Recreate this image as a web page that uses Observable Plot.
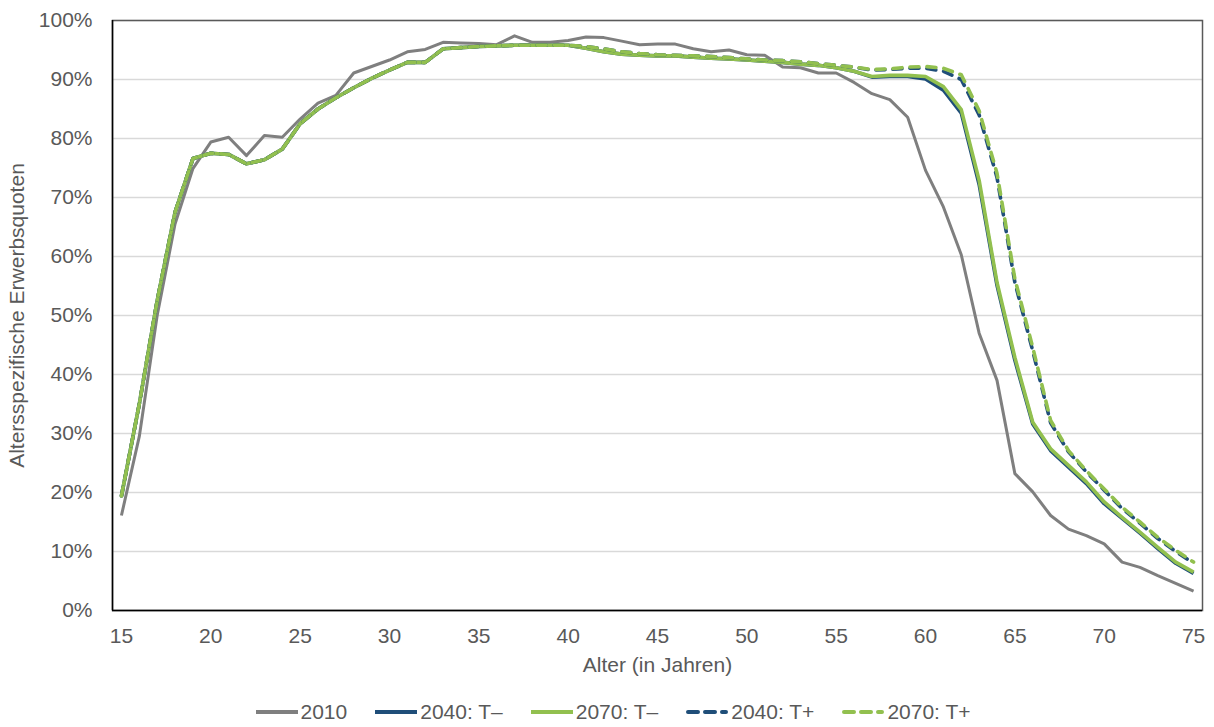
<!DOCTYPE html>
<html>
<head>
<meta charset="utf-8">
<script src="https://cdn.jsdelivr.net/npm/d3@7"></script>
<script src="https://cdn.jsdelivr.net/npm/@observablehq/plot@0.6"></script>
<style>
  html, body { margin: 0; padding: 0; background: #fff; }
  #chart { width: 1214px; }
  .legend { display: flex; justify-content: center; align-items: center; margin-top: 10px; padding-left: 12px;
    font-family: "Liberation Sans", Arial, sans-serif; font-size: 21px; color: #595959; line-height: 24px; }
  .legend .item { display: flex; align-items: center; margin: 0 14px; }
  .legend svg { margin-right: 3px; }
</style>
</head>
<body>
<div id="chart"></div>
<script>
// Ages (x categories)
const ages = d3.range(15, 76);
// Tick labels
const xTicks = [15, 20, 25, 30, 35, 40, 45, 50, 55, 60, 65, 70, 75];
const yTicks = [0, 10, 20, 30, 40, 50, 60, 70, 80, 90, 100];

// Series values (%), ages 15..75
const s2010 = [16.1, 29.5, 50.0, 65.5, 74.9, 79.4, 80.2, 77.1, 80.5, 80.2,
  83.3, 86.0, 87.3, 91.1, 92.2, 93.3, 94.7, 95.1, 96.3, 96.2,
  96.1, 95.9, 97.4, 96.3, 96.3, 96.6, 97.2, 97.1, 96.5, 95.9,
  96.0, 96.0, 95.2, 94.7, 95.0, 94.2, 94.1, 92.1, 92.0, 91.1,
  91.1, 89.5, 87.6, 86.6, 83.6, 74.6, 68.4, 60.3, 47.0, 39.0,
  23.2, 20.1, 16.1, 13.8, 12.7, 11.3, 8.2, 7.3, 5.9, 4.6, 3.3];

const s2040m = [19.4, 35.0, 52.5, 67.5, 76.6, 77.5, 77.3, 75.7, 76.4, 78.2,
  82.5, 85.0, 86.9, 88.6, 90.2, 91.6, 92.9, 92.9, 95.2, 95.4,
  95.6, 95.7, 95.8, 95.8, 95.8, 95.8, 95.3, 94.7, 94.3, 94.1,
  94.0, 94.0, 93.8, 93.6, 93.5, 93.3, 93.1, 92.9, 92.6, 92.4,
  92.0, 91.4, 90.4, 90.5, 90.5, 90.1, 88.2, 84.3, 72.2, 55.1,
  42.4, 31.6, 27.1, 24.3, 21.5, 18.1, 15.6, 13.1, 10.5, 8.0, 6.3];

const s2070m = [19.4, 35.0, 52.5, 67.5, 76.6, 77.5, 77.3, 75.7, 76.4, 78.2,
  82.5, 85.0, 86.9, 88.6, 90.2, 91.6, 92.9, 92.9, 95.2, 95.4,
  95.6, 95.7, 95.8, 95.8, 95.8, 95.8, 95.3, 94.7, 94.3, 94.1,
  94.0, 94.0, 93.8, 93.6, 93.5, 93.3, 93.1, 92.9, 92.6, 92.4,
  92.0, 91.4, 90.5, 90.7, 90.7, 90.5, 88.8, 84.9, 72.9, 55.6,
  42.9, 31.9, 27.4, 24.6, 21.8, 18.4, 15.8, 13.3, 10.7, 8.2, 6.5];

const s2040p = [19.4, 35.0, 52.5, 67.5, 76.6, 77.5, 77.3, 75.7, 76.4, 78.2,
  82.5, 85.0, 86.9, 88.6, 90.2, 91.6, 92.9, 92.9, 95.2, 95.4,
  95.6, 95.7, 95.8, 95.8, 95.8, 95.8, 95.6, 95.2, 94.7, 94.4,
  94.2, 94.1, 94.0, 93.9, 93.7, 93.5, 93.3, 93.2, 93.0, 92.7,
  92.4, 92.1, 91.6, 91.7, 91.9, 91.9, 91.4, 90.0, 84.0, 73.4,
  55.6, 44.0, 31.8, 26.9, 23.5, 20.4, 17.3, 14.8, 12.2, 10.0, 8.0];

const s2070p = [19.4, 35.0, 52.5, 67.5, 76.6, 77.5, 77.3, 75.7, 76.4, 78.2,
  82.5, 85.0, 86.9, 88.6, 90.2, 91.6, 92.9, 92.9, 95.2, 95.4,
  95.6, 95.7, 95.8, 95.8, 95.8, 95.8, 95.6, 95.2, 94.7, 94.4,
  94.2, 94.1, 94.0, 93.9, 93.7, 93.5, 93.3, 93.2, 93.0, 92.7,
  92.4, 92.1, 91.7, 91.8, 92.1, 92.2, 91.9, 90.8, 84.7, 74.1,
  56.2, 44.6, 32.2, 27.1, 23.7, 20.6, 17.5, 15.0, 12.4, 10.2, 8.2];

const seriesNames = ["2010", "2040: T–", "2070: T–", "2040: T+", "2070: T+"];
const seriesValues = [s2010, s2040m, s2070m, s2040p, s2070p];
const seriesColors = ["#7f7f7f", "#1f4e79", "#92c04f", "#1f4e79", "#92c04f"];
const seriesDash = [null, null, null, "9,8", "9,8"];
const seriesWidth = [3, 3.6, 3.6, 3.6, 3.6];

const tables = seriesValues.map((vals, i) => ages.map((a, j) => ({age: a, value: vals[j], series: seriesNames[i]})));

const lineMarks = tables.map((t, i) => Plot.lineY(t, {
  x: "age", y: "value",
  stroke: seriesColors[i],
  strokeWidth: seriesWidth[i],
  strokeDasharray: seriesDash[i] || undefined,
  strokeLinecap: seriesDash[i] ? "round" : "butt",
  strokeLinejoin: "round"
}));

const chart = Plot.plot({
  width: 1214,
  height: 690,
  marginLeft: 112,
  marginRight: 12,
  marginTop: 20,
  marginBottom: 80,
  style: {fontFamily: "'Liberation Sans', Arial, sans-serif", fontSize: "21px", color: "#595959", background: "#fff"},
  x: {domain: [14.5, 75.5]},
  y: {domain: [0, 100]},
  marks: [
    Plot.gridY(yTicks, {stroke: "#d9d9d9", strokeOpacity: 1, strokeWidth: 1.5}),
    Plot.frame({stroke: "#595959", strokeWidth: 1.5}),
    Plot.ruleX([14.5], {stroke: "#000", strokeWidth: 1.5}),
    Plot.ruleY([0], {stroke: "#000", strokeWidth: 1.5}),
    Plot.axisX(xTicks, {tickSize: 0, tickPadding: 18, tickFormat: d => String(d),
      label: "Alter (in Jahren)", labelAnchor: "center", labelOffset: 61, labelArrow: "none"}),
    Plot.axisY(yTicks, {tickSize: 0, tickPadding: 20, tickFormat: d => d + "%",
      label: "Altersspezifische Erwerbsquoten", labelAnchor: "center", labelOffset: 103, labelArrow: "none"}),
    ...lineMarks
  ]
});
document.getElementById("chart").appendChild(chart);

// Legend
const legend = document.createElement("div");
legend.className = "legend";
seriesNames.forEach((name, i) => {
  const item = document.createElement("div");
  item.className = "item";
  const dash = seriesDash[i] ? `stroke-dasharray="10,7" stroke-linecap="round"` : "";
  item.innerHTML = `<svg width="42" height="10"><line x1="${seriesDash[i] ? 2 : 0}" y1="5" x2="${seriesDash[i] ? 40 : 42}" y2="5" stroke="${seriesColors[i]}" stroke-width="4" ${dash}/></svg><span>${name}</span>`;
  legend.appendChild(item);
});
document.getElementById("chart").appendChild(legend);
</script>
</body>
</html>
